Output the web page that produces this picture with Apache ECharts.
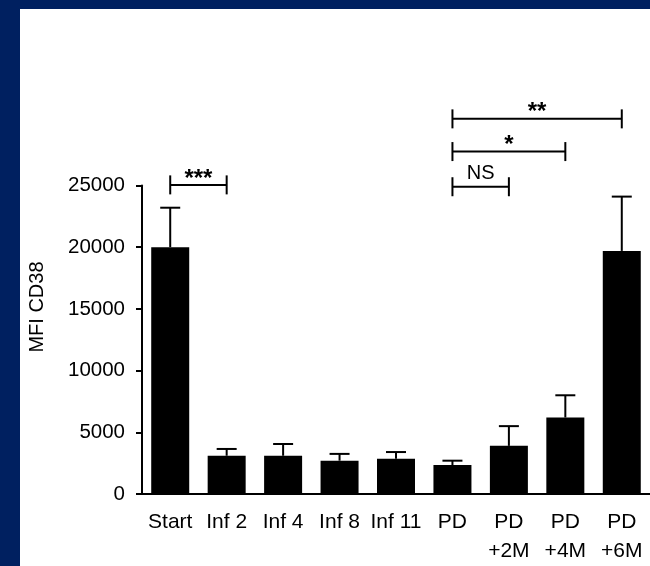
<!DOCTYPE html>
<html>
<head>
<meta charset="utf-8">
<script src="https://cdn.jsdelivr.net/npm/echarts@6/dist/echarts.min.js"></script>
<style>
html,body{margin:0;padding:0;background:#fff;}
#chart{width:650px;height:566px;}
</style>
</head>
<body>
<div id="chart"></div>
<script>
// ---- data ----
var categories = ['Start', 'Inf 2', 'Inf 4', 'Inf 8', 'Inf 11', 'PD', 'PD\n+2M', 'PD\n+4M', 'PD\n+6M'];
var means = [20000, 3100, 3100, 2700, 2850, 2350, 3900, 6200, 19700];
var errTop = [23200, 3650, 4050, 3250, 3400, 2700, 5500, 8000, 24100];
var yTicks = [0, 5000, 10000, 15000, 20000, 25000];
// significance brackets: [from category index, to category index, height in MFI]
var bracketFrom = [0, 5, 5, 5];
var bracketTo = [1, 6, 7, 8];
var bracketY = [25050, 24900, 27750, 30400];
var bracketLabels = ['***', 'NS', '*', '**'];
var yName = 'MFI CD38';

var FONT = 'Liberation Sans, Arial, Helvetica, sans-serif';
var chart = echarts.init(document.getElementById('chart'), null, {renderer: 'canvas'});

var errData = means.map(function (m, i) { return [i, m, errTop[i]]; });
var brData = bracketFrom.map(function (f, i) { return [f, bracketTo[i], bracketY[i]]; });

var option = {
  animation: false,
  backgroundColor: '#ffffff',
  grid: {left: 142, right: -6, top: 185.5, bottom: 72, containLabel: false},
  xAxis: {
    type: 'category',
    data: categories,
    axisLine: {lineStyle: {color: '#000', width: 2}},
    axisTick: {alignWithLabel: true, length: 6, lineStyle: {color: '#000', width: 2}},
    axisLabel: {interval: 0, color: '#000', fontFamily: FONT, fontSize: 21, lineHeight: 29, margin: 14}
  },
  yAxis: {
    type: 'value',
    min: yTicks[0],
    max: yTicks[yTicks.length - 1],
    interval: yTicks[1] - yTicks[0],
    splitLine: {show: false},
    axisLine: {show: true, lineStyle: {color: '#000', width: 2}},
    axisTick: {show: true, length: 6, lineStyle: {color: '#000', width: 2}},
    axisLabel: {color: '#000', fontFamily: FONT, fontSize: 20.5, margin: 17,
                formatter: function (v) { return String(v); }}
  },
  graphic: [
    {type: 'rect', left: 0, top: 0, shape: {width: 650, height: 9}, style: {fill: '#002060'}, z: 100},
    {type: 'rect', left: 0, top: 0, shape: {width: 20, height: 566}, style: {fill: '#002060'}, z: 100},
    {type: 'text', x: 37, y: 307, rotation: Math.PI / 2,
     style: {text: yName, fill: '#000', font: '20px ' + FONT, textAlign: 'center', textVerticalAlign: 'middle'}}
  ],
  series: [
    {
      type: 'bar',
      data: means,
      barWidth: 38,
      itemStyle: {color: '#000'},
      z: 2
    },
    {
      type: 'custom',
      data: errData,
      encode: {x: 0, y: [1, 2]},
      z: 3,
      renderItem: function (params, api) {
        var p0 = api.coord([api.value(0), api.value(1)]);
        var p1 = api.coord([api.value(0), api.value(2)]);
        var cw = 10;
        return {
          type: 'group',
          children: [
            {type: 'line', shape: {x1: p0[0], y1: p0[1], x2: p1[0], y2: p1[1]}, style: {stroke: '#000', lineWidth: 2}},
            {type: 'line', shape: {x1: p1[0] - cw, y1: p1[1], x2: p1[0] + cw, y2: p1[1]}, style: {stroke: '#000', lineWidth: 2}}
          ]
        };
      }
    },
    {
      type: 'custom',
      data: brData,
      encode: {x: [0, 1], y: 2},
      clip: false,
      z: 4,
      renderItem: function (params, api) {
        var a = api.coord([api.value(0), api.value(2)]);
        var b = api.coord([api.value(1), api.value(2)]);
        var h = 9.5;
        var lab = bracketLabels[params.dataIndex];
        var isStar = lab.indexOf('*') >= 0;
        return {
          type: 'group',
          children: [
            {type: 'line', shape: {x1: a[0], y1: a[1], x2: b[0], y2: b[1]}, style: {stroke: '#000', lineWidth: 2}},
            {type: 'line', shape: {x1: a[0], y1: a[1] - h, x2: a[0], y2: a[1] + h}, style: {stroke: '#000', lineWidth: 2}},
            {type: 'line', shape: {x1: b[0], y1: b[1] - h, x2: b[0], y2: b[1] + h}, style: {stroke: '#000', lineWidth: 2}},
            {type: 'text', x: (a[0] + b[0]) / 2, y: a[1] - (isStar ? 6 : 13),
             style: {text: lab, fill: '#000', font: (isStar ? 'bold 24px ' : '20px ') + FONT, textAlign: 'center', textVerticalAlign: 'middle'}}
          ]
        };
      }
    }
  ]
};
chart.setOption(option);
</script>
</body>
</html>
